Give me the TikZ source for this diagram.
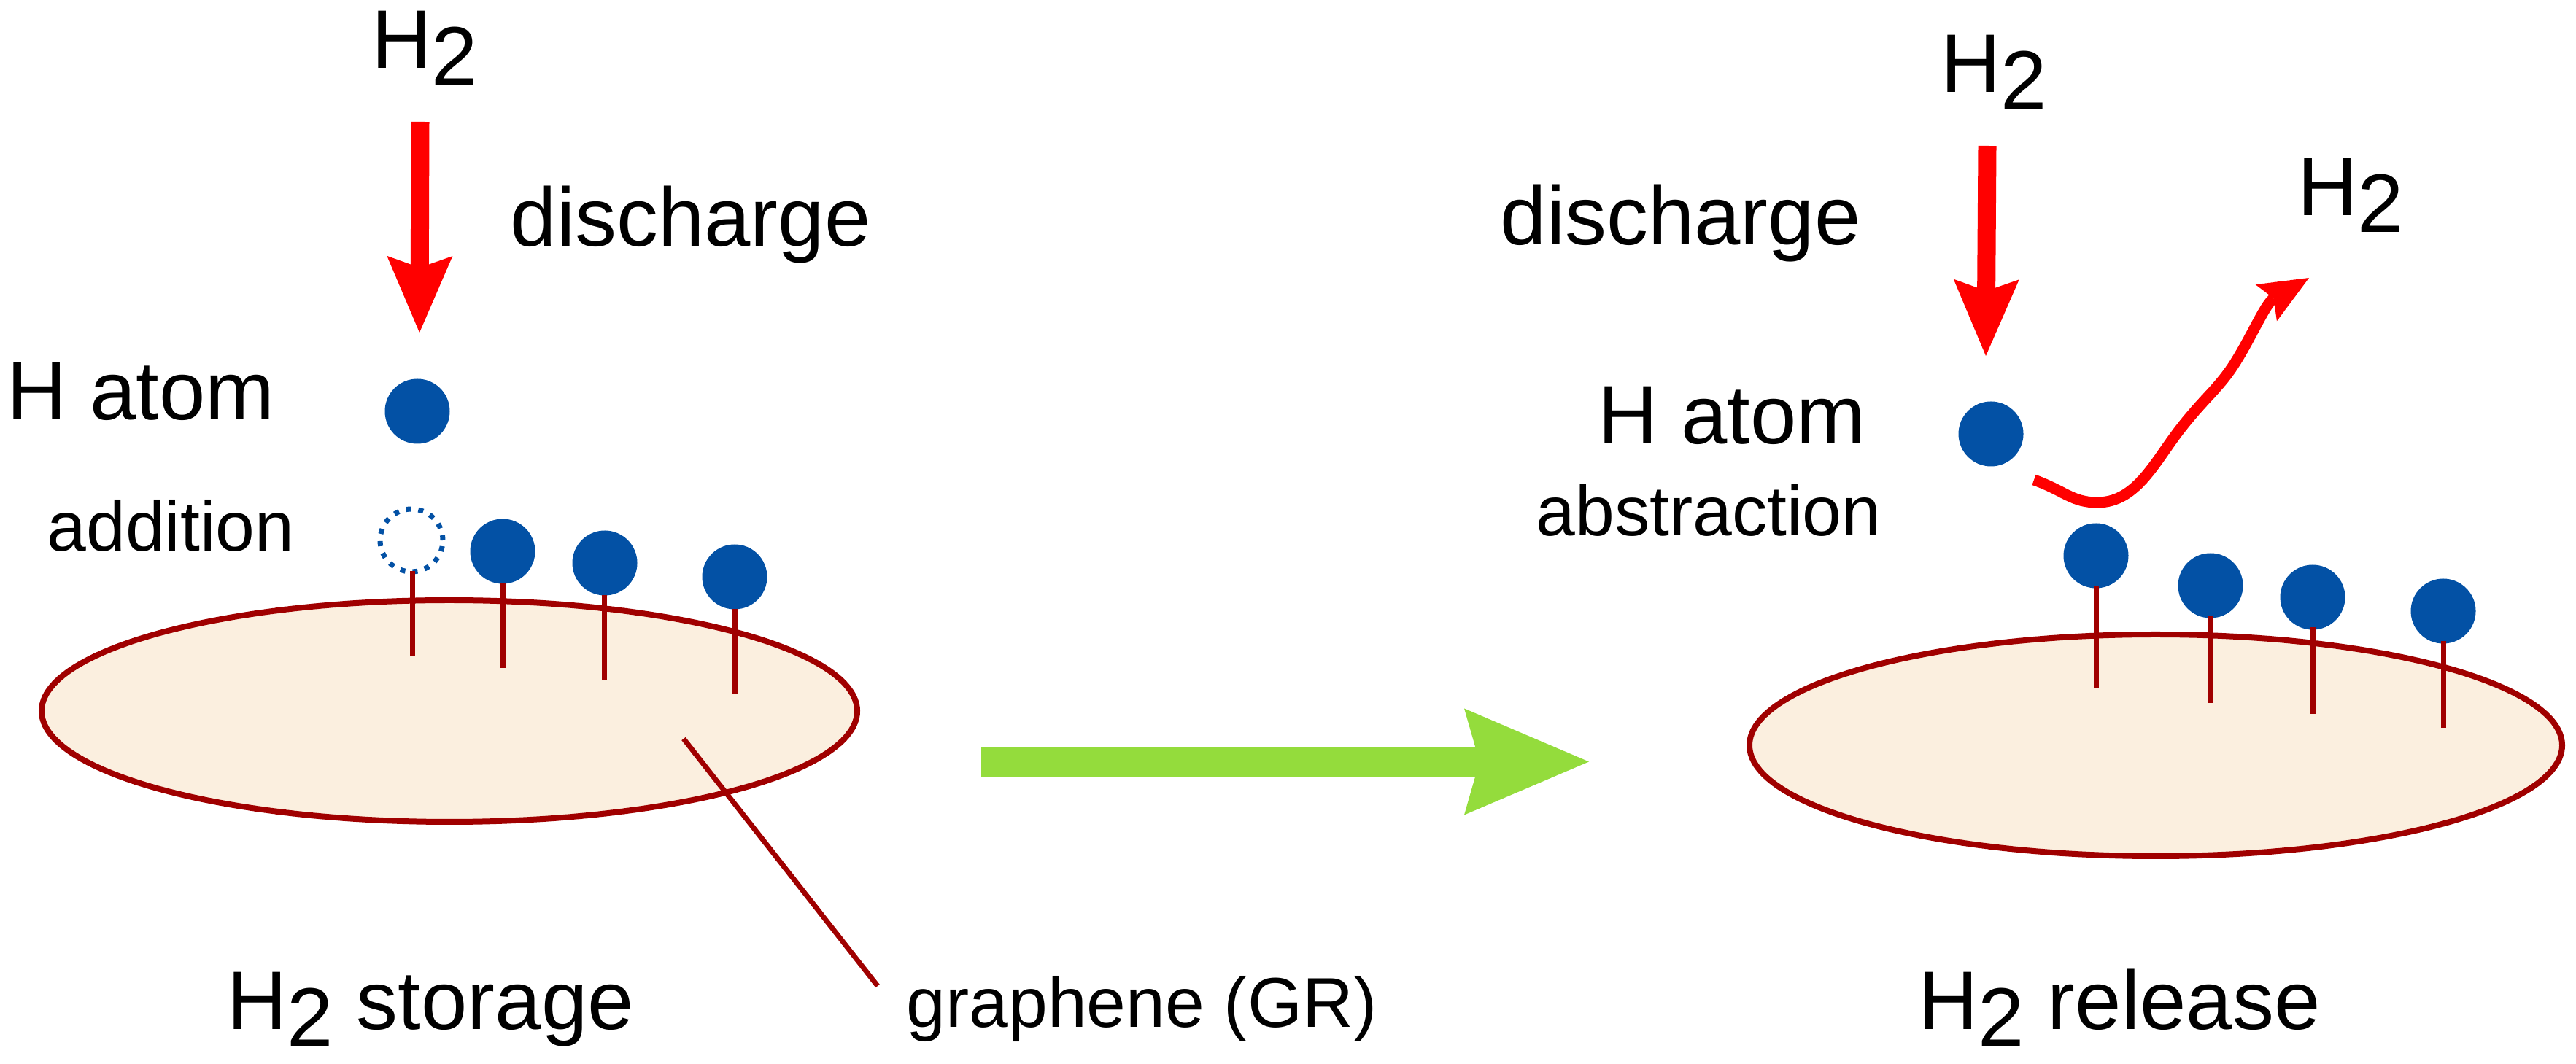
\documentclass[tikz,border=0pt]{standalone}
\usepackage{fontspec}
\setmainfont{Liberation Sans}
\usetikzlibrary{arrows.meta}
\definecolor{atomblue}{HTML}{0351A5}
\definecolor{sheetred}{HTML}{A00000}
\definecolor{sheetfill}{HTML}{FBEFDF}
\definecolor{flowgreen}{HTML}{94DC3C}
\def\Htwo{H\raisebox{-0.2em}{2}}
\tikzset{
	biglabel/.style={anchor=base west, inner sep=0pt, font=\fontsize{32.4}{38}\selectfont},
	smalllabel/.style={anchor=base west, inner sep=0pt, font=\fontsize{27.5}{33}\selectfont},
	atom/.style={fill=atomblue},
	stick/.style={draw=sheetred, line width=0.07cm},
	sheet/.style={draw=sheetred, fill=sheetfill, line width=0.08cm},
	redarrow/.style={red, line width=0.25cm, -{Stealth[length=1.05cm,width=0.9cm,inset=0.16cm,line width=0pt]}},
	greenarrow/.style={flowgreen, line width=0.41cm, -{Stealth[length=1.71cm,width=1.46cm,inset=0.21cm,line width=0pt]}},
}

\begin{document}
\begin{tikzpicture}
	\useasboundingbox (0, 0) rectangle (35.31, 14.58);

	% storage side
	\draw[sheet] (6.16, 4.83) ellipse (5.59 and 1.52);

	\coordinate (inleft) at (5.76, 12.91);
	\coordinate (tipleft) at (5.75, 10.02);
	\draw[redarrow] (inleft) -- (tipleft);

	\fill[atom] (5.72, 8.94) circle (0.445);
	\draw[atomblue, line width=0.07cm, dash pattern=on 0.07cm off 0.10cm] (5.64, 7.17) circle (0.43);
	\fill[atom] (6.89, 7.02) circle (0.445);
	\fill[atom] (8.29, 6.86) circle (0.445);
	\fill[atom] (10.07, 6.67) circle (0.445);

	\draw[stick] (5.65, 6.75) -- (5.65, 5.59);
	\draw[stick] (6.89, 6.58) -- (6.89, 5.42);
	\draw[stick] (8.28, 6.42) -- (8.28, 5.26);
	\draw[stick] (10.07, 6.23) -- (10.07, 5.06);

	\coordinate (leadtop) at (9.37, 4.45);
	\coordinate (leadend) at (12.03, 1.06);
	\draw[stick] (leadtop) -- (leadend);

	\node[biglabel] (h2left) at (5.09, 13.64) {\Htwo};
	\node[biglabel] (dischargeleft) at (6.99, 11.20) {discharge};
	\node[biglabel] (atomleft) at (0.09, 8.82) {H atom};
	\node[smalllabel] (addition) at (0.64, 7.02) {addition};
	\node[biglabel] (storage) at (3.11, 0.46) {\Htwo{} storage};
	\node[smalllabel] (graphene) at (12.42, 0.49) {graphene (GR)};

	% arrow between the two sides
	\coordinate (flowstart) at (13.45, 4.135);
	\coordinate (flowend) at (21.78, 4.135);
	\draw[greenarrow] (flowstart) -- (flowend);

	% release side
	\draw[sheet] (29.55, 4.36) ellipse (5.57 and 1.52);

	\coordinate (inright) at (27.24, 12.58);
	\coordinate (tipright) at (27.22, 9.70);
	\draw[redarrow] (inright) -- (tipright);

	\fill[atom] (27.29, 8.63) circle (0.445);
	\fill[atom] (28.73, 6.96) circle (0.445);
	\fill[atom] (30.30, 6.55) circle (0.445);
	\fill[atom] (31.70, 6.39) circle (0.445);
	\fill[atom] (33.49, 6.20) circle (0.445);

	\draw[stick] (28.73, 6.55) -- (28.73, 5.14);
	\draw[stick] (30.30, 6.14) -- (30.30, 4.94);
	\draw[stick] (31.70, 5.98) -- (31.70, 4.79);
	\draw[stick] (33.49, 5.79) -- (33.49, 4.60);

	\draw[red, line width=0.15cm, -{Stealth[length=0.68cm,width=0.58cm,inset=0.12cm,line width=0pt]}]
		(27.88, 8.00) .. controls (28.3, 7.85) and (28.4, 7.69) .. (28.75, 7.69)
		.. controls (29.3, 7.69) and (29.55, 8.28) .. (29.91, 8.73)
		.. controls (30.2, 9.1) and (30.4, 9.25) .. (30.6, 9.55)
		.. controls (30.85, 9.93) and (31.05, 10.42) .. (31.65, 10.77);

	\node[biglabel] (h2right) at (26.60, 13.31) {\Htwo};
	\node[biglabel] (h2out) at (31.49, 11.62) {\Htwo};
	\node[biglabel] (dischargeright) at (20.56, 11.22) {discharge};
	\node[biglabel] (atomright) at (21.90, 8.49) {H atom};
	\node[smalllabel] (abstraction) at (21.05, 7.23) {abstraction};
	\node[biglabel] (release) at (26.29, 0.46) {\Htwo{} release};
\end{tikzpicture}
\end{document}
